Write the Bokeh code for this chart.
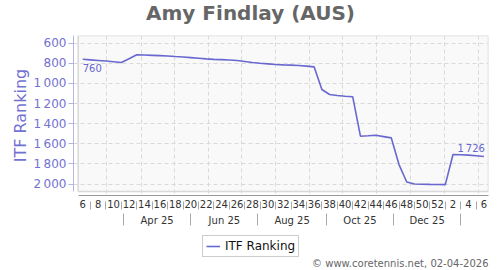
import pandas as pd
from bokeh.plotting import figure
from bokeh.layouts import column
from bokeh.models import (Range1d, FixedTicker, LinearAxis, BoxAnnotation, Label,
                          Legend, LegendItem, ColumnDataSource, CustomJSTickFormatter)
from bokeh.embed import file_html
from bokeh.resources import INLINE
from bokeh.core.properties import value

# ---------------- data ----------------
title_text = "Amy Findlay (AUS)"
credit_text = "\u00a9 www.coretennis.net, 02-04-2026"
series_name = "ITF Ranking"
first_week_date = "2025-02-07"
rankings = [760, 766, 772, 778, 784, 792, 754, 716, 718, 721, 724, 727, 733, 738,
            744, 750, 756, 761, 764, 768, 772, 782, 792, 800, 806, 812, 816, 818,
            822, 828, 836, 1060, 1110, 1120, 1128, 1133, 1524, 1520, 1515, 1528,
            1541, 1806, 1979, 1999, 2001, 2003, 2004, 2005, 1706, 1708, 1712,
            1718, 1726]
week_labels = ["6", "8", "10", "12", "14", "16", "18", "20", "22", "24", "26", "28",
               "30", "32", "34", "36", "38", "40", "42", "44", "46", "48", "50",
               "52", "2", "4", "6"]
month_labels = ["Apr 25", "Jun 25", "Aug 25", "Oct 25", "Dec 25"]
month_separator_dates = ["2025-03-16", "2025-05-16", "2025-07-16", "2025-09-16",
                         "2025-11-16", "2026-01-16"]
y_ticks = [600, 800, 1000, 1200, 1400, 1600, 1800, 2000]

FONT = "DejaVu Sans"
LINE_COLOR = "#6868d0"
AXIS_BLUE = "#7272d2"

# ---------------- derived positions (week index) ----------------
start = pd.Timestamp(first_week_date)
dates = pd.date_range(start, periods=len(rankings), freq="7D")
xs = [(d - start).days / 7 for d in dates]

def to_x(d):
    return (pd.Timestamp(d) - start).days / 7

month_starts = pd.date_range("2025-03-01", "2026-02-01", freq="MS")
grid_x = [to_x(d) for d in month_starts]
sep_x = [to_x(d) for d in month_separator_dates]
month_label_x = [(a + b) / 2 for a, b in zip(sep_x[:-1], sep_x[1:])]

def fmt(v):
    return f"{v:,}".replace(",", "\u2009")

x_inner_left, x_end = -0.6, 52.6
y_top, y_inner_bottom, y_bottom = 524, 2073, 2113

def strip(height):
    f = figure(width=500, height=height, output_backend="svg", toolbar_location=None,
               x_range=Range1d(0, 1), y_range=Range1d(0, 1), min_border=0,
               x_axis_type=None, y_axis_type=None)
    f.outline_line_color = None
    f.background_fill_color = "white"
    f.border_fill_color = "white"
    f.grid.visible = False
    return f

# ---------------- title strip ----------------
head = strip(35)
head.add_layout(Label(x=177, y=23, x_units="screen", y_units="screen", text=title_text,
                      text_align="center", text_baseline="middle", text_font=FONT,
                      text_font_size="20px", text_font_style="bold",
                      text_color="#666666"))

# ---------------- main chart ----------------
p = figure(width=500, height=197, output_backend="svg", toolbar_location=None,
           x_range=Range1d(-1.2, x_end), y_range=Range1d(y_bottom, y_top),
           min_border_left=73, min_border_right=12, min_border_top=0,
           min_border_bottom=37, title=None)
p.background_fill_color = "white"
p.border_fill_color = "white"
p.outline_line_color = None

box = BoxAnnotation(left=x_inner_left, bottom=y_inner_bottom, fill_color="#f9f9f9",
                    fill_alpha=1.0, line_color="#888888", line_width=1.5, level="image")
p.add_layout(box)

p.xgrid[0].ticker = FixedTicker(ticks=grid_x)
for g in (p.xgrid[0], p.ygrid[0]):
    g.grid_line_color = "#d9d9d9"
    g.grid_line_dash = "4 3"
    g.grid_line_width = 1

def nearest_formatter(positions, names):
    return CustomJSTickFormatter(args=dict(pos=positions, names=names), code="""
        let best = 0;
        for (let i = 0; i < pos.length; i++)
            if (Math.abs(pos[i] - tick) < Math.abs(pos[best] - tick)) best = i;
        return names[best];
    """)

xa = p.xaxis[0]
xa.ticker = FixedTicker(ticks=xs[::2], minor_ticks=xs[1::2])
xa.formatter = nearest_formatter(xs[::2], week_labels)
xa.bounds = (x_inner_left, x_end)
xa.axis_line_color = "#999999"
xa.major_tick_in = 0
xa.major_tick_out = 0
xa.minor_tick_in = -6
xa.minor_tick_out = 14
xa.minor_tick_line_color = "#aaaaaa"
xa.major_label_standoff = -10
xa.major_label_text_font = FONT
xa.major_label_text_font_size = "10px"
xa.major_label_text_color = "#333333"

xa2 = LinearAxis(ticker=FixedTicker(ticks=month_label_x, minor_ticks=sep_x),
                 formatter=nearest_formatter(month_label_x, month_labels))
xa2.bounds = (x_inner_left, x_end)
xa2.axis_line_color = None
xa2.major_tick_in = 0
xa2.major_tick_out = 0
xa2.minor_tick_in = -3
xa2.minor_tick_out = 15
xa2.minor_tick_line_color = "#aaaaaa"
xa2.major_label_standoff = -11
xa2.major_label_text_font = FONT
xa2.major_label_text_font_size = "10px"
xa2.major_label_text_color = "#333333"
p.add_layout(xa2, "below")

ya = p.yaxis[0]
ya.ticker = FixedTicker(ticks=y_ticks)
ya.major_label_overrides = {t: fmt(t) for t in y_ticks}
ya.bounds = (y_top, y_inner_bottom)
ya.axis_line_color = "#b4b4e6"
ya.major_tick_line_color = "#b4b4e6"
ya.major_tick_in = 0
ya.major_tick_out = 5
ya.minor_tick_line_color = None
ya.major_label_standoff = 2
ya.major_label_text_font = FONT
ya.major_label_text_font_size = "12px"
ya.major_label_text_color = AXIS_BLUE
ya.axis_label = series_name
ya.axis_label_text_font = FONT
ya.axis_label_text_font_size = "16px"
ya.axis_label_text_font_style = "normal"
ya.axis_label_text_color = AXIS_BLUE
ya.axis_label_standoff = 1

src = ColumnDataSource(dict(x=xs, y=rankings))
line = p.line("x", "y", source=src, line_color=LINE_COLOR, line_width=1.6)

first_src = ColumnDataSource(dict(x=[xs[0]], y=[rankings[0]], t=[fmt(rankings[0])]))
last_src = ColumnDataSource(dict(x=[xs[-1]], y=[rankings[-1]], t=[fmt(rankings[-1])]))
p.text("x", "y", text="t", source=first_src, text_align="left", text_baseline="middle",
       y_offset=9, text_font=value(FONT), text_font_size="10px", text_color=LINE_COLOR)
p.text("x", "y", text="t", source=last_src, text_align="right", text_baseline="middle",
       x_offset=1, y_offset=-8, text_font=value(FONT), text_font_size="10px",
       text_color=LINE_COLOR)

# ---------------- legend + credit strip ----------------
foot = strip(38)
# same series, hidden here: it only supplies the legend swatch
legend_line = foot.line(x=xs, y=rankings, line_color=LINE_COLOR, line_width=1.6,
                        visible=False)
legend = Legend(items=[LegendItem(label=series_name, renderers=[legend_line])],
                location=(129, 13), orientation="horizontal",
                border_line_color="#999999", border_line_width=1,
                background_fill_color="white", background_fill_alpha=1.0,
                label_text_font=FONT, label_text_font_size="12px",
                label_text_color="#111111", glyph_width=14, glyph_height=14,
                padding=3, margin=0, label_standoff=5)
foot.add_layout(legend)
foot.add_layout(Label(x=415, y=7, x_units="screen", y_units="screen",
                      text=credit_text, text_align="right", text_baseline="middle",
                      text_font=FONT, text_font_size="10px", text_color="#666666"))

layout = column(head, p, foot, spacing=0)
open("out.html", "w").write(file_html(layout, INLINE))
